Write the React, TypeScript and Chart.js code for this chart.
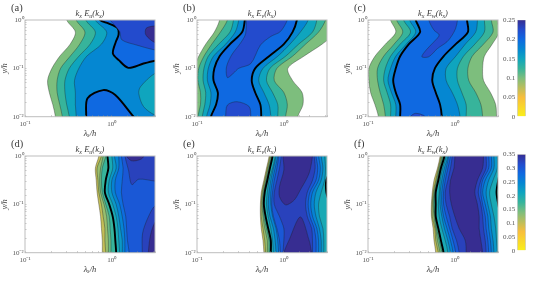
import React, { useEffect, useRef } from "react";
import { Chart, registerables } from "chart.js";
Chart.register(...registerables);

// ---------- axis values ----------
const lambdaMin = 0.1;
const lambdaMax = 3.14;
const yMin = 0.01;
const yMax = 1;
const xTickExponents = [-1, 0];
const yTickExponents = [-2, -1, 0];
const superscripts: Record<string, string> = { "-1": "10\u207B\u00B9", "-2": "10\u207B\u00B2", "0": "10\u2070" };
// log10(y/h) at which every contour below is read
const rows = [0, -0.25, -0.5, -0.75, -1, -1.25, -1.5, -1.75, -2];
const off = [0.7, 0.7, 0.7, 0.7, 0.7, 0.7, 0.7, 0.7, 0.7];
const panelLetters = ["(a)", "(b)", "(c)", "(d)", "(e)", "(f)"];
const titleSubs = ["u", "v", "w", "u", "v", "w"];
const colorTicksTop = [0, 0.05, 0.1, 0.15, 0.2, 0.25];
const colorTicksBottom = [0, 0.05, 0.1, 0.15, 0.2, 0.25, 0.3, 0.35];
const colorMaxTop = 0.25;
const colorMaxBottom = 0.35;
const cmapStops: [number, number[]][] = [
  [0, [250, 240, 25]], [0.2, [248, 190, 60]], [0.4, [125, 190, 125]], [0.5, [55, 180, 155]],
  [0.6, [15, 165, 190]], [0.7, [5, 135, 210]], [0.8, [15, 105, 225]], [0.9, [35, 75, 205]], [1, [55, 45, 145]],
];

// ---------- panel (a): log10(lambda/h) of each contour ----------
const a100 = [-0.52, -0.42, -0.48, -0.6, -0.69, -0.74, -0.72, -0.68, -0.65];
const a125 = [-0.41, -0.31, -0.37, -0.48, -0.59, -0.63, -0.63, -0.6, -0.57];
const a150 = [-0.3, -0.19, -0.25, -0.38, -0.49, -0.54, -0.54, -0.52, -0.49];
const a175 = [-0.19, -0.06, -0.12, -0.29, -0.38, -0.43, -0.42, -0.42, -0.41];
const aPocketX = [0.7, 0.5, 0.33, 0.31, 0.365, 0.5, 0.7];
const aPocketY = [-1.0, -1.1, -1.38, -1.52, -1.79, -1.97, -2.05];
const aTopX = [-0.18, -0.135, -0.04, 0.065, 0.077, 0.046, 0.012, 0.08, 0.19, 0.365, 0.5, 0.7, 0.7, -0.18];
const aTopY = [0.2, 0, -0.07, -0.17, -0.31, -0.45, -0.69, -0.83, -0.99, -0.9, -0.84, -0.78, 0.2, 0.2];
const aBumpX = [-0.3, -0.296, -0.28, -0.1, 0.04, 0.25, 0.35, -0.3];
const aBumpY = [-2.2, -2, -1.62, -1.45, -1.55, -2, -2.2, -2.2];
const a225X = [-0.02, 0.09, 0.115, 0.29, 0.5, 0.7, 0.7, -0.05];
const a225Y = [0, -0.24, -0.41, -0.52, -0.62, -0.66, 0.2, 0.2];
const a250X = [0.7, 0.5, 0.396, 0.392, 0.5, 0.7];
const a250Y = [-0.08, -0.12, -0.17, -0.31, -0.47, -0.55];

// ---------- panel (b) ----------
const b100L = [-0.74, -0.8, -0.9, -0.98, -1.04, -1.1, -1.1, -1.1, -1.1];
const b125L = [-0.65, -0.73, -0.83, -0.92, -0.98, -0.99, -0.96, -0.96, -0.99];
const b150L = [-0.58, -0.62, -0.75, -0.87, -0.92, -0.93, -0.9, -0.91, -0.94];
const b175L = [-0.52, -0.56, -0.67, -0.81, -0.87, -0.88, -0.84, -0.85, -0.89];
const b200L = [-0.45, -0.48, -0.62, -0.74, -0.8, -0.81, -0.76, -0.78, -0.84];
const b100R = [0.6, 0.6, 0.44, 0.23, 0.046, 0.1, 0.21, 0.22, 0.16];
const b125R = [0.48, 0.4, 0.25, 0.1, -0.08, -0.11, 0, 0.04, 0.02];
const b150R = [0.38, 0.33, 0.17, 0.02, -0.16, -0.2, -0.13, -0.07, -0.07];
const b175R = [0.28, 0.19, 0.07, -0.07, -0.24, -0.29, -0.23, -0.17, -0.15];
const b200R = [0.15, 0.1, 0, -0.17, -0.33, -0.37, -0.33, -0.27, -0.26];
const b225TopX = [-0.43, -0.44, -0.5, -0.6, -0.66, -0.65, -0.58, -0.52, -0.38, -0.27, -0.15, -0.04, 0.04, 0.06];
const b225TopY = [0.2, -0.28, -0.48, -0.72, -0.97, -1.19, -1.1, -1.0, -0.9, -0.52, -0.34, -0.24, 0, 0.2];
const b225BumpX = [-0.67, -0.67, -0.65, -0.54, -0.4, -0.38, -0.38];
const b225BumpY = [-2.2, -2, -1.76, -1.69, -1.79, -2, -2.2];

// ---------- panel (c) ----------
const c100L = [-0.74, -0.68, -0.8, -0.92, -0.99, -0.99, -0.97, -0.92, -0.88];
const c125L = [-0.67, -0.6, -0.7, -0.82, -0.89, -0.89, -0.86, -0.82, -0.8];
const c150L = [-0.59, -0.51, -0.63, -0.74, -0.8, -0.82, -0.78, -0.74, -0.74];
const c175L = [-0.52, -0.45, -0.56, -0.68, -0.74, -0.77, -0.73, -0.68, -0.68];
const c200L = [-0.45, -0.4, -0.53, -0.63, -0.68, -0.71, -0.68, -0.63, -0.63];
const c100R = [0.49, 0.51, 0.43, 0.34, 0.32, 0.33, 0.41, 0.47, 0.48];
const c125R = [0.42, 0.44, 0.33, 0.2, 0.15, 0.16, 0.24, 0.3, 0.32];
const c150R = [0.34, 0.34, 0.23, 0.1, 0.03, 0.03, 0.08, 0.13, 0.13];
const c175R = [0.26, 0.24, 0.12, 0.01, -0.1, -0.1, -0.03, 0.03, 0.06];
const c200R = [0.14, 0.15, 0.01, -0.13, -0.23, -0.26, -0.22, -0.17, -0.15];
const c225TopX = [-0.3, -0.3, -0.24, -0.18, -0.24, -0.33, -0.38, -0.3, -0.2, -0.09, -0.03, 0.01, 0.03, 0.03];
const c225TopY = [0.2, 0, -0.21, -0.31, -0.45, -0.62, -0.76, -0.76, -0.59, -0.45, -0.31, -0.17, 0, 0.2];
const c225BumpX = [-0.53, -0.51, -0.45, -0.34, -0.32];
const c225BumpY = [-2.2, -2, -1.93, -2, -2.2];

// ---------- panel (d) ----------
const d100 = [-0.15, -0.19, -0.18, -0.17, -0.15, -0.13, -0.12, -0.11, -0.11];
const d125 = [-0.12, -0.17, -0.16, -0.15, -0.12, -0.1, -0.08, -0.08, -0.07];
const d150 = [-0.1, -0.13, -0.14, -0.13, -0.09, -0.06, -0.05, -0.04, -0.04];
const d175 = [-0.07, -0.11, -0.12, -0.11, -0.07, -0.03, -0.02, -0.01, -0.01];
const d200 = [-0.05, -0.04, -0.07, -0.08, -0.03, 0.01, 0.03, 0.04, 0.05];
const d225 = [0, 0.01, -0.03, -0.04, 0.01, 0.05, 0.07, 0.08, 0.09];
const d250 = [0.03, 0.05, 0, 0, 0.05, 0.08, 0.1, 0.12, 0.12];
const d275 = [0.08, 0.08, 0.04, 0.04, 0.09, 0.12, 0.14, 0.15, 0.15];
const d300 = [0.11, 0.13, 0.12, 0.11, 0.13, 0.16, 0.17, 0.18, 0.2];
const d325TopX = [0.14, 0.15, 0.19, 0.23, 0.31, 0.5, 0.7, 0.7];
const d325TopY = [0.2, 0, -0.28, -0.59, -0.48, -0.52, -0.55, 0.2];
const d350TopX = [0.16, 0.17, 0.23, 0.33, 0.37, 0.38];
const d350TopY = [0.2, 0, -0.1, -0.07, 0, 0.2];
const d325BotX = [0.35, 0.35, 0.354, 0.42, 0.51, 0.7, 0.7];
const d325BotY = [-2.2, -2, -1.6, -1.26, -1.01, -0.95, -2.2];
const d350BotX = [0.42, 0.42, 0.45, 0.52, 0.7, 0.7];
const d350BotY = [-2.2, -2, -1.6, -1.32, -1.2, -2.2];

// ---------- panel (e) ----------
const e100 = [-0.17, -0.2, -0.23, -0.26, -0.27, -0.27, -0.26, -0.24, -0.23];
const e125 = [-0.16, -0.19, -0.22, -0.25, -0.26, -0.26, -0.24, -0.22, -0.21];
const e150 = [-0.15, -0.18, -0.21, -0.24, -0.25, -0.24, -0.22, -0.19, -0.19];
const e175 = [-0.14, -0.17, -0.2, -0.23, -0.24, -0.23, -0.2, -0.17, -0.17];
const e200L = [-0.13, -0.16, -0.19, -0.22, -0.23, -0.21, -0.18, -0.15, -0.15];
const e225L = [-0.1, -0.13, -0.17, -0.19, -0.2, -0.18, -0.15, -0.13, -0.12];
const e250L = [-0.09, -0.12, -0.15, -0.17, -0.18, -0.16, -0.12, -0.1, -0.09];
const e275L = [-0.07, -0.1, -0.13, -0.15, -0.15, -0.13, -0.09, -0.07, -0.06];
const e300L = [-0.06, -0.08, -0.11, -0.13, -0.14, -0.12, -0.08, -0.05, -0.04];
const e325L = [-0.03, -0.05, -0.08, -0.11, -0.11, -0.05, 0, 0, -0.01];
const e200R = [0.58, 0.55, 0.49, 0.49, 0.53, 0.58, 0.58, 0.58, 0.58];
const e225R = [0.47, 0.48, 0.47, 0.43, 0.4, 0.41, 0.45, 0.46, 0.46];
const e250R = [0.43, 0.45, 0.43, 0.37, 0.35, 0.37, 0.41, 0.43, 0.43];
const e275R = [0.4, 0.42, 0.4, 0.33, 0.31, 0.33, 0.38, 0.4, 0.4];
const e300R = [0.37, 0.39, 0.37, 0.3, 0.28, 0.3, 0.35, 0.37, 0.37];
const e325R = [0.35, 0.36, 0.33, 0.27, 0.25, 0.27, 0.32, 0.33, 0.33];
const e350TopX = [-0.01, -0.01, 0, -0.05, -0.05, 0.02, 0.12, 0.19, 0.29, 0.33, 0.33];
const e350TopY = [0.2, 0, -0.29, -0.63, -0.84, -1.01, -0.91, -0.7, -0.36, 0, 0.2];
const e350BotX = [-0.02, 0, 0.06, 0.19, 0.29, 0.32, 0.34];
const e350BotY = [-2.2, -2, -1.74, -1.26, -1.74, -2, -2.2];

// ---------- panel (f) ----------
const f100 = [-0.17, -0.2, -0.24, -0.26, -0.27, -0.27, -0.25, -0.24, -0.22];
const f125 = [-0.16, -0.19, -0.22, -0.25, -0.26, -0.26, -0.23, -0.22, -0.19];
const f150 = [-0.15, -0.18, -0.21, -0.24, -0.25, -0.24, -0.22, -0.2, -0.17];
const f175 = [-0.14, -0.17, -0.2, -0.23, -0.24, -0.23, -0.21, -0.18, -0.15];
const f200L = [-0.12, -0.16, -0.19, -0.22, -0.22, -0.22, -0.19, -0.16, -0.13];
const f225L = [-0.1, -0.14, -0.17, -0.18, -0.19, -0.18, -0.15, -0.11, -0.08];
const f250L = [-0.08, -0.12, -0.15, -0.17, -0.17, -0.15, -0.12, -0.08, -0.05];
const f275L = [-0.07, -0.1, -0.13, -0.15, -0.15, -0.13, -0.09, -0.05, -0.02];
const f300L = [-0.05, -0.08, -0.11, -0.13, -0.13, -0.1, -0.06, -0.02, 0.01];
const f325L = [-0.03, -0.05, -0.08, -0.11, -0.1, -0.06, -0.03, 0.02, 0.05];
const f350L = [0, -0.01, -0.05, -0.06, -0.04, 0, 0.05, 0.12, 0.13];
const f200R = [0.58, 0.53, 0.5, 0.48, 0.5, 0.53, 0.58, 0.58, 0.58];
const f225R = [0.49, 0.49, 0.44, 0.4, 0.42, 0.45, 0.47, 0.48, 0.49];
const f250R = [0.45, 0.45, 0.39, 0.36, 0.38, 0.41, 0.42, 0.44, 0.45];
const f275R = [0.42, 0.42, 0.35, 0.32, 0.35, 0.38, 0.39, 0.41, 0.42];
const f300R = [0.39, 0.39, 0.32, 0.3, 0.32, 0.35, 0.36, 0.38, 0.39];
const f325R = [0.36, 0.36, 0.3, 0.27, 0.3, 0.32, 0.33, 0.35, 0.36];
const f350R = [0.33, 0.32, 0.26, 0.23, 0.26, 0.28, 0.28, 0.3, 0.32];

// ---------- contour tables ----------
type Contour = { level: number; pts: [number, number][] };
const ribbon = (level: number, left: number[], right: number[] = off): Contour => {
  const pts: [number, number][] = [[left[0], 0.2]];
  rows.forEach((r, i) => pts.push([left[i], r]));
  pts.push([left[left.length - 1], -2.2], [right[right.length - 1], -2.2]);
  for (let i = rows.length - 1; i >= 0; i--) pts.push([right[i], rows[i]]);
  pts.push([right[0], 0.2]);
  return { level, pts };
};
const patch = (level: number, xs: number[], ys: number[]): Contour => ({
  level,
  pts: xs.map((x, i) => [x, ys[i]] as [number, number]),
});

const panelContours: Contour[][] = [
  [ribbon(0.1, a100), ribbon(0.125, a125), ribbon(0.15, a150), ribbon(0.175, a175),
    patch(0.15, aPocketX, aPocketY), patch(0.2, aTopX, aTopY), patch(0.2, aBumpX, aBumpY),
    patch(0.225, a225X, a225Y), patch(0.25, a250X, a250Y)],
  [ribbon(0.1, b100L, b100R), ribbon(0.125, b125L, b125R), ribbon(0.15, b150L, b150R),
    ribbon(0.175, b175L, b175R), ribbon(0.2, b200L, b200R),
    patch(0.225, b225TopX, b225TopY), patch(0.225, b225BumpX, b225BumpY)],
  [ribbon(0.1, c100L, c100R), ribbon(0.125, c125L, c125R), ribbon(0.15, c150L, c150R),
    ribbon(0.175, c175L, c175R), ribbon(0.2, c200L, c200R),
    patch(0.225, c225TopX, c225TopY), patch(0.225, c225BumpX, c225BumpY)],
  [ribbon(0.1, d100), ribbon(0.125, d125), ribbon(0.15, d150), ribbon(0.175, d175), ribbon(0.2, d200),
    ribbon(0.225, d225), ribbon(0.25, d250), ribbon(0.275, d275), ribbon(0.3, d300),
    patch(0.325, d325TopX, d325TopY), patch(0.35, d350TopX, d350TopY),
    patch(0.325, d325BotX, d325BotY), patch(0.35, d350BotX, d350BotY)],
  [ribbon(0.1, e100), ribbon(0.125, e125), ribbon(0.15, e150), ribbon(0.175, e175),
    ribbon(0.2, e200L, e200R), ribbon(0.225, e225L, e225R), ribbon(0.25, e250L, e250R),
    ribbon(0.275, e275L, e275R), ribbon(0.3, e300L, e300R), ribbon(0.325, e325L, e325R),
    patch(0.35, e350TopX, e350TopY), patch(0.35, e350BotX, e350BotY)],
  [ribbon(0.1, f100), ribbon(0.125, f125), ribbon(0.15, f150), ribbon(0.175, f175),
    ribbon(0.2, f200L, f200R), ribbon(0.225, f225L, f225R), ribbon(0.25, f250L, f250R),
    ribbon(0.275, f275L, f275R), ribbon(0.3, f300L, f300R), ribbon(0.325, f325L, f325R),
    ribbon(0.35, f350L, f350R)],
];

// ---------- helpers ----------
const cmap = (t: number) => {
  for (let i = 1; i < cmapStops.length; i++) {
    if (t <= cmapStops[i][0]) {
      const [t0, c0] = cmapStops[i - 1];
      const [t1, c1] = cmapStops[i];
      const f = (t - t0) / (t1 - t0);
      return `rgb(${c0.map((c, k) => Math.round(c + (c1[k] - c) * f)).join(",")})`;
    }
  }
  return "rgb(55,45,145)";
};

const SERIF = '"Liberation Serif", serif';
const TEXT = "#3a3a3a";
const TICK = "#555555";
const FRAME = "#bdbdbd";

const colLefts = [24.7, 196.7, 367.7];
const rowTops = [20, 156];
const plotW = 130;
const plotH = 96.7;
const padL = 28;
const padR = 6;

const isExp = (v: number, list: number[]) => list.find((e) => Math.abs(Math.log10(v) - e) < 1e-6);

const panelConfig = (i: number, canvasTop: number, canvasH: number) => {
  const row = i < 3 ? 0 : 1;
  const top = rowTops[row];
  const max = row === 0 ? colorMaxTop : colorMaxBottom;
  const datasets = panelContours[i].map((c, k) => ({
    data: [...c.pts, c.pts[0]].map(([x, y]) => ({ x: 10 ** x, y: 10 ** y })),
    showLine: true,
    fill: "shape",
    backgroundColor: cmap(c.level / max),
    borderColor: c.level === 0.2 ? "#000000" : "rgba(30,30,30,0.6)",
    borderWidth: c.level === 0.2 ? 1.9 : 0.6,
    pointRadius: 0,
    tension: 0.3,
    clip: 0,
    order: 100 - k,
  }));
  const frameAndText = {
    id: "frameAndText",
    afterDraw(chart: any) {
      const { ctx, chartArea: a } = chart;
      ctx.save();
      ctx.strokeStyle = FRAME;
      ctx.lineWidth = 1;
      ctx.strokeRect(a.left, a.top, a.right - a.left, a.bottom - a.top);
      ctx.fillStyle = TEXT;
      ctx.textBaseline = "alphabetic";
      const big = `italic 8.5px ${SERIF}`;
      const small = `italic 6px ${SERIF}`;
      const runs: [string, boolean][] = [
        ["k", false], ["x", true], [" E", false], [titleSubs[i], true], ["(k", false], ["x", true], [")", false],
      ];
      let w = 0;
      runs.forEach(([t, s]) => { ctx.font = s ? small : big; w += ctx.measureText(t).width; });
      let x = (a.left + a.right) / 2 - w / 2;
      const base = a.top - 4;
      runs.forEach(([t, s]) => {
        ctx.font = s ? small : big;
        ctx.fillText(t, x, s ? base + 1.5 : base);
        x += ctx.measureText(t).width;
      });
      ctx.font = `10.5px ${SERIF}`;
      ctx.fillText(panelLetters[i], a.left - 14, row === 0 ? 10.5 : 146.5 - canvasTop + 0);
      ctx.restore();
    },
  };
  return {
    type: "scatter",
    data: { datasets },
    plugins: [frameAndText],
    options: {
      animation: false,
      responsive: false,
      devicePixelRatio: 1,
      layout: { padding: { top: top - canvasTop, right: padR, left: 0, bottom: 0 } },
      plugins: { legend: { display: false }, tooltip: { enabled: false } },
      scales: {
        x: {
          type: "logarithmic",
          min: lambdaMin,
          max: lambdaMax,
          afterFit: (s: any) => { s.height = canvasH - (top - canvasTop) - plotH; },
          border: { display: false },
          grid: { drawOnChartArea: false, tickLength: -1.5, tickColor: "#8a8a8a", lineWidth: 0.5, z: 1 },
          ticks: {
            autoSkip: false, maxRotation: 0, padding: 5, color: TICK,
            font: { family: SERIF, size: 7 },
            callback: (v: number) => { const e = isExp(v, xTickExponents); return e === undefined ? "" : superscripts[String(e)]; },
          },
          title: {
            display: true, text: "\u03BB\u2093/h", color: TEXT,
            font: { family: SERIF, size: 8.5, style: "italic" },
            padding: { top: 0, bottom: canvasH - (top - canvasTop) - plotH - 22 },
          },
        },
        y: {
          type: "logarithmic",
          min: yMin,
          max: yMax,
          afterFit: (s: any) => { s.width = padL; },
          border: { display: false },
          grid: { drawOnChartArea: false, tickLength: -1.5, tickColor: "#8a8a8a", lineWidth: 0.5, z: 1 },
          ticks: {
            autoSkip: false, padding: 3, color: TICK,
            font: { family: SERIF, size: 7 },
            callback: (v: number) => { const e = isExp(v, yTickExponents); return e === undefined ? "" : superscripts[String(e)]; },
          },
          title: {
            display: true, text: "y/h", color: TEXT,
            font: { family: SERIF, size: 8.5, style: "italic" },
            padding: { top: 2.5, bottom: 0 },
          },
        },
      },
    },
  };
};

const colorbarConfig = (maxV: number, ticks: number[], plotTop: number, plotHeight: number) => ({
  type: "bar",
  data: {
    labels: ["c"],
    datasets: [{
      data: [[0, maxV]],
      barPercentage: 1,
      categoryPercentage: 1,
      borderColor: FRAME,
      borderWidth: 0.7,
      backgroundColor: (ctx: any) => {
        const a = ctx.chart.chartArea;
        if (!a) return "#888";
        const g = ctx.chart.ctx.createLinearGradient(0, a.bottom, 0, a.top);
        cmapStops.forEach(([t]) => g.addColorStop(t, cmap(t)));
        return g;
      },
    }],
  },
  options: {
    animation: false,
    responsive: false,
    devicePixelRatio: 1,
    layout: { padding: { top: plotTop, right: 12.3, left: 0, bottom: 6 } },
    plugins: { legend: { display: false }, tooltip: { enabled: false } },
    scales: {
      x: { display: false },
      y: {
        min: 0, max: maxV,
        afterFit: (s: any) => { s.width = 27.3; },
        afterBuildTicks: (s: any) => { s.ticks = ticks.map((value) => ({ value })); },
        border: { display: false },
        grid: { drawOnChartArea: false, drawTicks: false },
        ticks: {
          padding: 2, color: TICK, font: { family: SERIF, size: 7 },
          callback: (v: number) => (v === 0 ? "0" : String(Number(v.toFixed(2)))),
        },
      },
    },
  },
});

const ChartBox = ({ left, top, width, height, make }: any) => {
  const ref = useRef<HTMLCanvasElement>(null);
  useEffect(() => {
    const chart = new Chart(ref.current as any, make());
    return () => chart.destroy();
  }, []);
  return (
    <canvas
      ref={ref}
      width={width}
      height={height}
      style={{ position: "absolute", left, top, width, height, display: "block" }}
    />
  );
};

export default function App() {
  const panels = [0, 1, 2, 3, 4, 5].map((i) => {
    const row = i < 3 ? 0 : 1;
    const canvasTop = row === 0 ? 0 : 136;
    const canvasH = row === 0 ? 141 : 146;
    return (
      <ChartBox
        key={i}
        left={colLefts[i % 3] - padL}
        top={canvasTop}
        width={padL + plotW + padR}
        height={canvasH}
        make={() => panelConfig(i, canvasTop, canvasH)}
      />
    );
  });
  return (
    <div style={{ position: "absolute", left: 0, top: 0, width: 538, height: 282, overflow: "hidden", background: "#fff" }}>
      {panels}
      <ChartBox left={490} top={0} width={48} height={123} make={() => colorbarConfig(colorMaxTop, colorTicksTop, 20, 97)} />
      <ChartBox left={490} top={136} width={48} height={121} make={() => colorbarConfig(colorMaxBottom, colorTicksBottom, 18.3, 97)} />
    </div>
  );
}
